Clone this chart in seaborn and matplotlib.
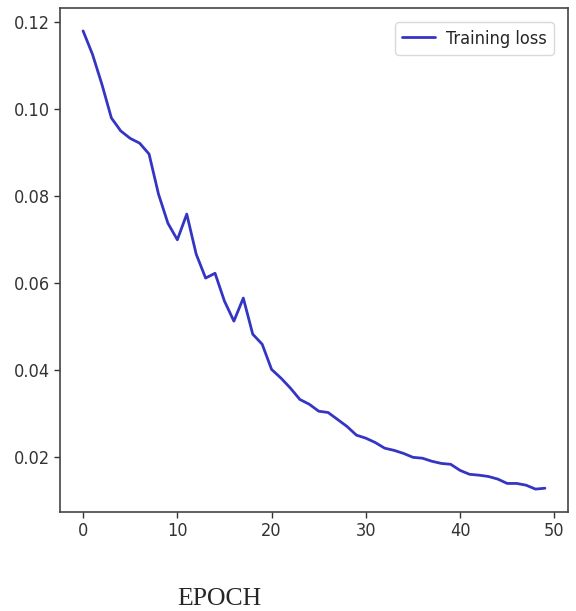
import matplotlib
matplotlib.use("Agg")
import matplotlib.pyplot as plt
import numpy as np
import pandas as pd
import seaborn as sns


# -------------------------------------------------------------------------------------------
# Data

epochs = list(range(50))
train_loss = [
    0.1180, 0.1126, 0.1057, 0.0980, 0.0950, 0.0933, 0.0922, 0.0897, 0.0805, 0.0738,
    0.0700, 0.0759, 0.0667, 0.0612, 0.0623, 0.0559, 0.0513, 0.0566, 0.0483, 0.0460,
    0.0402, 0.0382, 0.0359, 0.0333, 0.0322, 0.0306, 0.0303, 0.0287, 0.0271, 0.0251,
    0.0244, 0.0234, 0.0221, 0.0216, 0.0209, 0.0200, 0.0198, 0.0191, 0.0186, 0.0184,
    0.0170, 0.0161, 0.0159, 0.0156, 0.0150, 0.0140, 0.0140, 0.0136, 0.0127, 0.0129,
]
series_label = "Training loss"
x_label = "EPOCH"

df = pd.DataFrame({"epoch": epochs, "loss": train_loss})


# -------------------------------------------------------------------------------------------
# Plot

sns.set_theme(style="ticks")
plt.rcParams["font.family"] = ["DejaVu Sans"]
plt.rcParams["font.stretch"] = "condensed"

fig = plt.figure(figsize=(5.76, 6.11), dpi=100)
ax = fig.add_axes([60 / 576, 1 - 512 / 611, 508 / 576, 504 / 611])

sns.lineplot(data=df, x="epoch", y="loss", ax=ax, color="#3535c4",
             linewidth=2.0, label=series_label)

ax.set_xticks([0, 10, 20, 30, 40, 50])
ax.set_yticks([0.02, 0.04, 0.06, 0.08, 0.10, 0.12])
ax.set_yticklabels(["0.02", "0.04", "0.06", "0.08", "0.10", "0.12"])
ax.tick_params(labelsize=13, colors="#333333", length=4, width=1)
ax.set_xlabel("")
ax.set_ylabel("")
for s in ax.spines.values():
    s.set_color("#444444")
    s.set_linewidth(1.2)

leg = ax.legend(loc="upper right", fontsize=13, frameon=True, handlelength=1.8,
                handletextpad=0.6, borderaxespad=0.8)
leg.get_frame().set_edgecolor("#d0d0d0")

fig.text(219 / 576, 1 - 605 / 611, x_label, ha="center", va="baseline",
         fontsize=18.5, family="Liberation Serif")

plt.savefig("out.png", dpi=100)
